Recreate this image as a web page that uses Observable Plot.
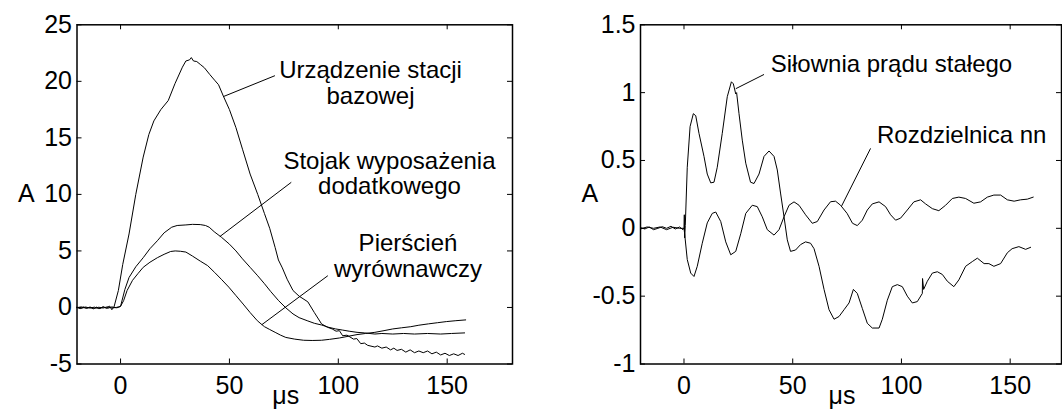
<!DOCTYPE html>
<html><head><meta charset="utf-8">
<script src="https://cdn.jsdelivr.net/npm/d3@7"></script>
<script src="https://cdn.jsdelivr.net/npm/@observablehq/plot@0.6"></script>
<style>
html,body{margin:0;padding:0;background:#fff;overflow:hidden;}
#wrap{position:relative;width:1062px;height:415px;overflow:hidden;background:#fff;}
#wrap svg{position:absolute;top:0;}
</style></head><body><div id="wrap"></div>
<script>
// ---------- Left panel data (time in µs, current in A) ----------
const leftXTicks = [0, 50, 100, 150];
const leftYTicks = [-5, 0, 5, 10, 15, 20, 25];
const stacjaBazowa = [
  [-20,0],[-18.5,-0.1],[-17,0.05],[-15.5,-0.08],[-14,0.02],[-12.5,-0.12],[-11,0.03],[-9.5,-0.1],[-8,0.06],[-6.5,-0.05],[-5,0.12],[-4,-0.2],[-3,0.05],
  [-1,1.5],[1,3.8],[3.9,6.5],[7,10],[10.4,13.3],[13,15.3],[15.3,16.5],[18.5,17.5],[21.9,18.3],[25,19.8],[28.4,21.25],[30,21.8],[31.7,21.9],[32.5,22.1],
  [33.5,21.8],[35,21.75],[36.6,21.5],[38.5,21.2],[41,20.6],[43.2,20.1],[45,19.7],[47.2,18.7],[50,17.5],[53,15.9],[56,14],[59.5,11.8],[63,10],[66.1,8.3],
  [68.5,7],[71,5.3],[72.5,4.2],[74.3,3.5],[76.5,2.5],[79.2,1.5],[82,1.0],[86,0.5],[89,-0.45],[92.3,-1.45],[95,-1.75],[97.2,-1.9],[99,-2.1],[100.5,-2.05],
  [102,-2.5],[104,-2.45],[107,-2.8],[108.5,-2.75],[110.3,-3.2],[112,-3.15],[113.5,-3.35],[116.8,-3.5],[118,-3.4],[120,-3.6],[122,-3.5],[124,-3.75],[125.5,-3.6],
  [127,-3.8],[129,-3.7],[131,-3.95],[133,-3.75],[135,-4.0],[137,-3.85],[139,-4.0],[141,-3.85],[143,-4.1],[145,-3.95],[147,-4.2],[149,-4.05],[151,-4.25],
  [153,-4.1],[155,-4.25],[157,-4.05],[158,-4.15]
];
const stojak = [
  [-20,0.02],[-18,-0.08],[-16,0.04],[-14,-0.06],[-12,0.03],[-10,-0.1],[-8,0.04],[-6,-0.08],[-4,0.05],[-2,-0.03],[-1,0],
  [0,0.1],[2,1.6],[3.9,2.65],[7,3.6],[10.4,4.4],[13.5,5.2],[16.9,5.9],[20,6.6],[23.5,7.1],[26,7.25],[30,7.3],[33,7.35],[36.6,7.33],[39,7.25],
  [40.7,7.1],[43,6.7],[46.4,6.2],[50,5.6],[53,5.0],[56,4.3],[59.5,3.55],[63,2.8],[66.1,2.1],[69,1.4],[72.6,0.6],[76,-0.05],[79.2,-0.57],[82,-0.9],
  [85.7,-1.17],[89,-1.4],[92.3,-1.55],[95.5,-1.75],[98.8,-1.9],[102,-2.0],[105,-2.1],[108.6,-2.2],[112,-2.25],[116.8,-2.35],[120,-2.3],[125,-2.35],
  [130,-2.3],[135,-2.35],[141,-2.3],[147,-2.35],[152,-2.3],[158,-2.25]
];
const pierscien = [
  [-20,-0.02],[-18,0.05],[-16,-0.06],[-14,0.03],[-12,-0.08],[-10,0.02],[-8,-0.05],[-6,0.06],[-4,-0.04],[-2,0],
  [0,0.1],[1.4,0.6],[3,1.5],[5.5,2.4],[8,3.0],[10.4,3.55],[13.5,4.0],[16.9,4.4],[20,4.7],[23,4.95],[25.1,5.0],[27.5,4.97],[30,4.9],[33,4.55],
  [36.6,4.1],[40,3.7],[43.2,3.1],[46.5,2.45],[49.7,1.8],[53,1.05],[56.3,0.3],[59.5,-0.45],[62.8,-1.17],[64.5,-1.45],[66.1,-1.7],[68.5,-1.95],
  [71,-2.2],[73.5,-2.45],[75.9,-2.65],[80,-2.8],[84.1,-2.9],[88,-2.92],[92.3,-2.9],[96,-2.82],[100.5,-2.7],[104.5,-2.55],[108.6,-2.4],[112.5,-2.3],
  [116.8,-2.2],[121,-2.05],[125,-1.9],[129,-1.8],[133.3,-1.7],[137,-1.57],[141.4,-1.45],[145.5,-1.35],[149.6,-1.25],[154,-1.17],[158.5,-1.1]
];
const leftLabels = [
  {x: 114.8, y: 21.9, text: "Urządzenie stacji\nbazowej"},
  {x: 123.5, y: 13.9, text: "Stojak wyposażenia\ndodatkowego"},
  {x: 132,   y: 6.6,  text: "Pierścień\nwyrównawczy"}
];
const leftLeaders = [
  {x1: 70.9, y1: 20.5,  x2: 47.2, y2: 18.65},
  {x1: 78.4, y1: 11.07, x2: 45.6, y2: 6.27},
  {x1: 95.2, y1: 2.81,  x2: 64.9, y2: -1.52}
];

// ---------- Right panel data ----------
const rightXTicks = [0, 50, 100, 150];
const rightYTicks = [-1, -0.5, 0, 0.5, 1, 1.5];
const silownia = [
  [-20,0.005],[-18,-0.005],[-16,0.01],[-14,-0.01],[-12,0.0],[-10,0.012],[-8,0.0],[-6,0.015],[-4,-0.005],[-2,0.01],[-0.5,-0.01],[0,0.0],
  [0.15,0.1],[0.3,-0.07],[0.6,0.02],[1.5,0.45],[2.8,0.75],[4.3,0.845],[5.4,0.83],[6.9,0.7],[9.2,0.53],[10.7,0.40],[12.3,0.335],[13.8,0.34],
  [15.3,0.45],[17.6,0.7],[19.9,0.97],[21.8,1.08],[22.7,1.065],[23.8,0.99],[24.2,1.0],[25.3,0.845],[26.8,0.65],[28.4,0.48],[30.6,0.34],[32.2,0.33],
  [34.5,0.40],[36.8,0.53],[39.1,0.57],[41.4,0.53],[42.9,0.43],[44.4,0.26],[46,0.085],[47.5,-0.085],[49,-0.17],[51.3,-0.16],[53.6,-0.12],
  [55.9,-0.1],[58.2,-0.11],[59.8,-0.15],[62.1,-0.28],[64.4,-0.45],[66.7,-0.6],[69,-0.67],[71.3,-0.65],[73.6,-0.6],[75.9,-0.55],[77.9,-0.45],
  [79.7,-0.48],[82,-0.59],[84.3,-0.70],[86.6,-0.735],[89.7,-0.735],[91.2,-0.67],[93.5,-0.53],[95.8,-0.43],[98.1,-0.415],[100.4,-0.43],
  [102.7,-0.5],[105,-0.55],[107.3,-0.54],[109.6,-0.48],[109.7,-0.37],[110.2,-0.45],[111.9,-0.39],[114.2,-0.33],[116.5,-0.32],[118.8,-0.34],
  [121.1,-0.39],[124.1,-0.43],[126.4,-0.38],[129.5,-0.28],[132.6,-0.245],[134.9,-0.22],[138,-0.26],[140.2,-0.26],[142.5,-0.28],[145.6,-0.26],
  [148.7,-0.18],[150.9,-0.15],[154,-0.135],[157.1,-0.155],[159.4,-0.14]
];
const rozdzielnica = [
  [-20,-0.005],[-17,0.01],[-14,0.0],[-11,0.01],[-8,-0.01],[-5,0.008],[-2,0.0],[0,0.0],
  [0.3,-0.04],[1.5,-0.23],[3.1,-0.33],[4.6,-0.355],[6.1,-0.28],[8.4,-0.11],[10.7,0.04],[13,0.11],[14.6,0.12],[16.9,0.05],[19.2,-0.1],
  [21.5,-0.195],[23.8,-0.17],[26.1,-0.04],[28.4,0.11],[31.4,0.17],[33.7,0.16],[36,0.085],[38.3,-0.01],[41.4,-0.05],[43.7,-0.01],[46,0.085],
  [48.3,0.17],[50.6,0.195],[52.9,0.17],[55.9,0.1],[59,0.037],[61.3,0.05],[64.4,0.135],[67.4,0.196],[69.7,0.20],[72,0.17],[75,0.11],[77.5,0.037],
  [79.7,0.02],[82,0.06],[84.3,0.135],[86.6,0.18],[89.7,0.195],[92.7,0.16],[95,0.1],[97.3,0.06],[99.6,0.075],[102.7,0.135],[105.7,0.195],
  [108.8,0.21],[111.1,0.18],[114.2,0.145],[117.2,0.13],[120.3,0.17],[123.4,0.22],[126.4,0.23],[129.5,0.22],[133.3,0.185],[136.4,0.195],
  [139.5,0.23],[142.5,0.245],[145.6,0.245],[148.7,0.21],[151.8,0.20],[154.8,0.21],[157.9,0.215],[160.6,0.23]
];
const rightLabels = [
  {x: 95.4,  y: 1.287, text: "Siłownia prądu stałego"},
  {x: 127.7, y: 0.76,  text: "Rozdzielnica nn"}
];
const rightLeaders = [
  {x1: 36.8, y1: 1.134, x2: 23.8, y2: 1.029},
  {x1: 85.8, y1: 0.589, x2: 72.5, y2: 0.165}
];

const FONT = "'Liberation Sans', Arial, Helvetica, sans-serif";

function panel({series, xDomain, yDomain, xTicks, yTicks, labels, leaders, left, ml, mr}) {
  const W = 560, H = 415, mt = 24.3, mb = 51.5, T = 5;
  const pw = W - ml - mr, ph = H - mt - mb;
  const fmt = d => String(d);
  const marks = [
    ...series.map(s => Plot.line(s, {x: d => d[0], y: d => d[1], stroke: "black", strokeWidth: 1})),
    Plot.link(leaders, {x1: "x1", y1: "y1", x2: "x2", y2: "y2", stroke: "black", strokeWidth: 1}),
    Plot.text(labels, {x: "x", y: "y", text: "text", lineAnchor: "top", textAnchor: "middle", fontSize: 24, lineHeight: 1.07, fill: "black"}),
    Plot.tickX(xTicks, {x: d => d, insetTop: ph - T, stroke: "black"}),
    Plot.tickX(xTicks, {x: d => d, insetBottom: ph - T, stroke: "black"}),
    Plot.tickY(yTicks, {y: d => d, insetRight: pw - T, stroke: "black"}),
    Plot.tickY(yTicks, {y: d => d, insetLeft: pw - T, stroke: "black"}),
    Plot.axisX({ticks: xTicks, anchor: "bottom", tickSize: 0, tickPadding: 12, tickFormat: fmt, fontSize: 25, label: null}),
    Plot.axisY({ticks: yTicks, anchor: "left", tickSize: 0, tickPadding: 5, tickFormat: fmt, fontSize: 25, label: null}),
    Plot.text(["A"], {frameAnchor: "left", dx: -59, text: d => d, fontSize: 25, fill: "black"}),
    Plot.text(["μs"], {frameAnchor: "bottom", dx: -9, dy: 40, text: d => d, fontSize: 25, fill: "black"}),
    Plot.frame({stroke: "black", strokeWidth: 1.5})
  ];
  const svg = Plot.plot({
    width: W, height: H, marginLeft: ml, marginRight: mr, marginTop: mt, marginBottom: mb,
    x: {domain: xDomain, axis: null},
    y: {domain: yDomain, axis: null},
    style: {fontFamily: FONT, color: "black", background: "white", overflow: "visible"},
    marks
  });
  svg.style.left = left + "px";
  return svg;
}

const wrap = document.getElementById("wrap");
wrap.appendChild(panel({
  series: [stacjaBazowa, stojak, pierscien], xDomain: [-20, 180], yDomain: [-5, 25],
  xTicks: leftXTicks, yTicks: leftYTicks, labels: leftLabels, leaders: leftLeaders,
  left: 0, ml: 76.5, mr: 48
}));
wrap.appendChild(panel({
  series: [silownia, rozdzielnica], xDomain: [-20, 173.6], yDomain: [-1, 1.5],
  xTicks: rightXTicks, yTicks: rightYTicks, labels: rightLabels, leaders: rightLeaders,
  left: 560, ml: 80, mr: 59
}));
</script></body></html>
